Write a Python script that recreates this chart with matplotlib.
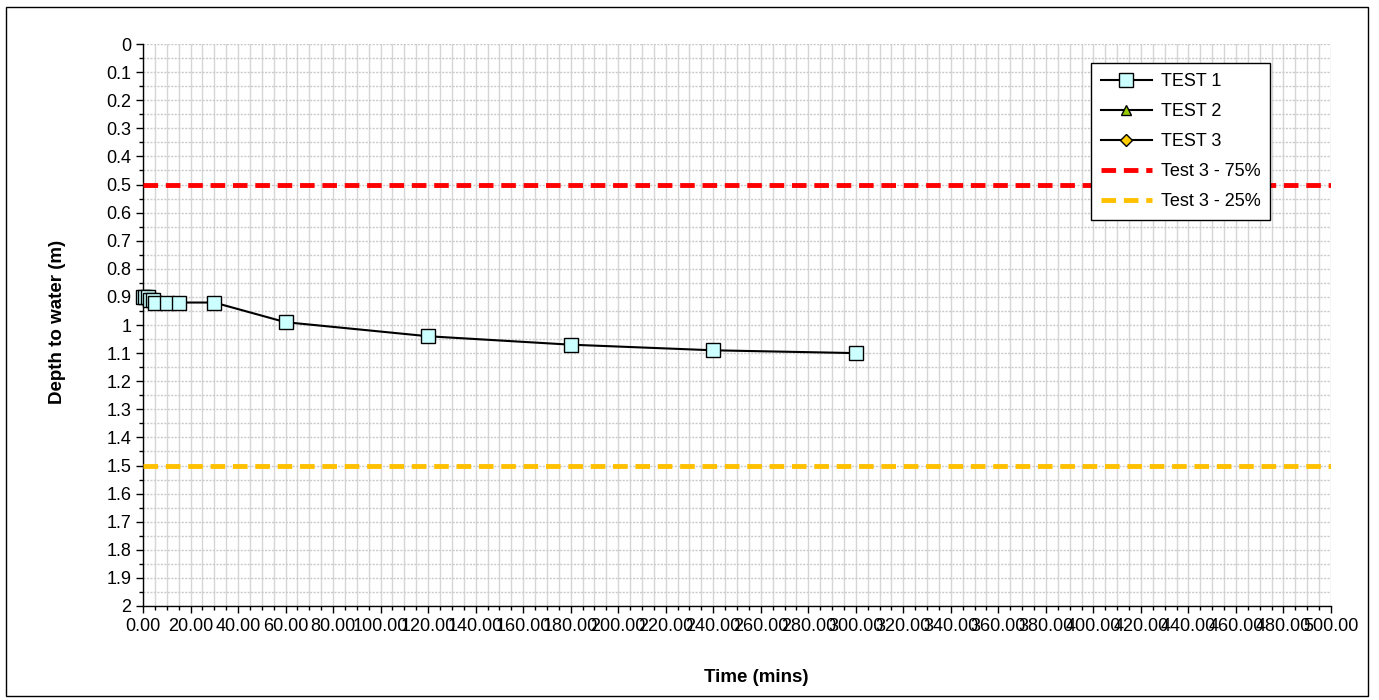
import matplotlib.pyplot as plt
from matplotlib.patches import Rectangle
from matplotlib.ticker import MultipleLocator, FuncFormatter

plt.rcParams['font.family'] = ['Liberation Sans', 'DejaVu Sans']

# soakaway test readings
test1_time = [0, 1, 2, 3, 4, 5, 10, 15, 30, 60, 120, 180, 240, 300]
test1_depth = [0.90, 0.90, 0.90, 0.91, 0.91, 0.92, 0.92, 0.92, 0.92, 0.99, 1.04, 1.07, 1.09, 1.10]
test2_time, test2_depth = [], []
test3_time, test3_depth = [], []

level_75 = 0.5
level_25 = 1.5

fig = plt.figure(figsize=(13.79, 7.0), dpi=100)
ax = fig.add_axes([0.1037, 0.1343, 0.8615, 0.8028])

# outer chart border
fig.patches.append(Rectangle((6 / 1379, 4 / 700), 1362 / 1379, 689 / 700,
                             transform=fig.transFigure, fill=False,
                             edgecolor='black', linewidth=1))

ax.plot(test1_time, test1_depth, color='black', linewidth=1.5, marker='s',
        markersize=10.5, markerfacecolor='#CCFFFF', markeredgecolor='black',
        markeredgewidth=1, label='TEST 1', zorder=5, clip_on=False)
ax.plot(test2_time, test2_depth, color='black', linewidth=1.5, marker='^',
        markersize=7, markerfacecolor='#99CC00', markeredgecolor='black',
        label='TEST 2')
ax.plot(test3_time, test3_depth, color='black', linewidth=1.5, marker='D',
        markersize=6, markerfacecolor='#FFCC00', markeredgecolor='black',
        label='TEST 3')
ax.axhline(level_75, color='#FF0000', linewidth=3.5, linestyle=(0, (3, 1.6)),
           label='Test 3 - 75%', zorder=4)
ax.axhline(level_25, color='#FFC000', linewidth=3.5, linestyle=(0, (3, 1.6)),
           label='Test 3 - 25%', zorder=4)

ax.set_xlim(0, 500)
ax.set_ylim(2, 0)
ax.xaxis.set_major_locator(MultipleLocator(20))
ax.xaxis.set_minor_locator(MultipleLocator(5))
ax.yaxis.set_major_locator(MultipleLocator(0.1))
ax.yaxis.set_minor_locator(MultipleLocator(0.05))
ax.xaxis.set_major_formatter(FuncFormatter(lambda v, p: f'{v:.2f}'))
ax.yaxis.set_major_formatter(FuncFormatter(lambda v, p: f'{round(v, 2):g}'))

# vertical gridlines solid, horizontal ones dotted
ax.grid(axis='x', which='both', color='#D6D6D6', linewidth=1)
ax.grid(axis='y', which='both', color='#CACACA', linewidth=1, linestyle=(0, (1.5, 1)))
ax.set_axisbelow(True)

for s in ['top', 'right']:
    ax.spines[s].set_visible(False)
for s in ['left', 'bottom']:
    ax.spines[s].set_linewidth(1)

ax.tick_params(which='major', direction='out', length=5, labelsize=13, width=1)
ax.tick_params(which='minor', direction='out', length=3, width=1)
ax.tick_params(axis='x', pad=4)

ax.set_xlabel('Time (mins)', fontsize=13.5, fontweight='bold')
ax.set_ylabel('Depth to water (m)', fontsize=13.5, fontweight='bold')
ax.xaxis.set_label_coords(0.516, -0.1125)
ax.yaxis.set_label_coords(-0.065, 0.505)

leg = ax.legend(loc='upper left', bbox_to_anchor=(0.798, 0.966), fontsize=13,
                fancybox=False, edgecolor='black', framealpha=1,
                borderaxespad=0, handlelength=2.8, labelspacing=0.72,
                borderpad=0.55, handletextpad=0.5)
leg.get_frame().set_linewidth(1)

fig.savefig('out.png', dpi=100)
